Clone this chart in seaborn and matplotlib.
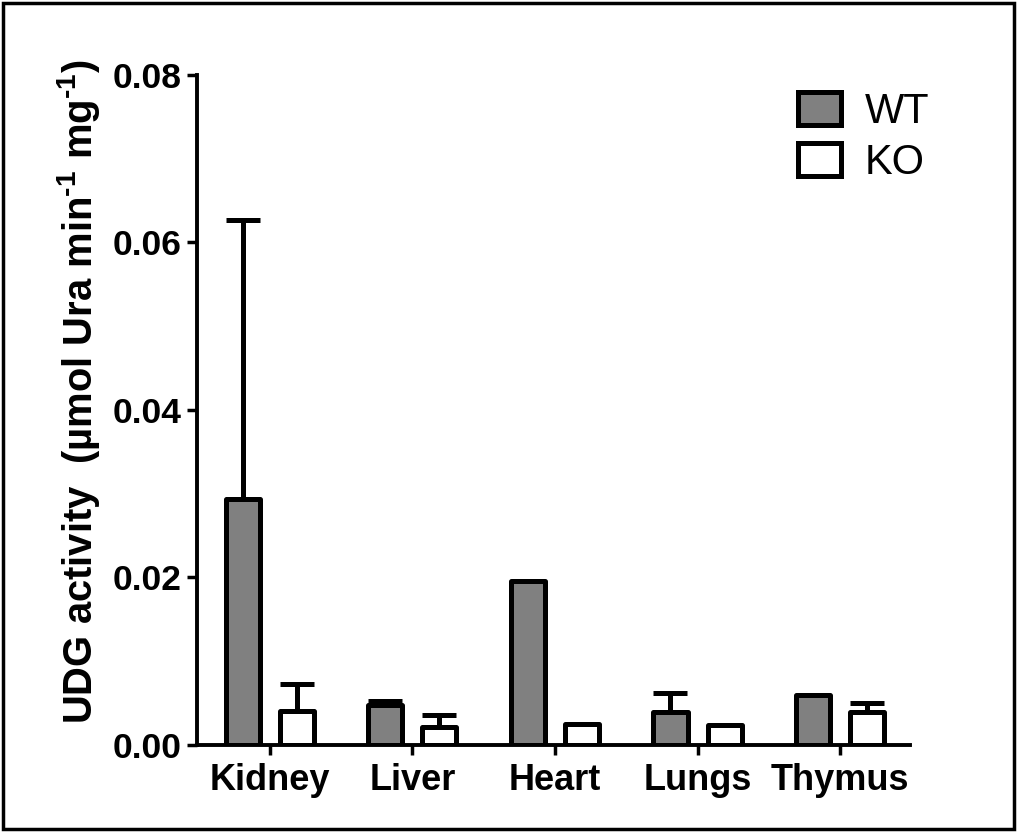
import matplotlib
matplotlib.use("Agg")
import matplotlib.pyplot as plt
import matplotlib.patches as mpatches
from matplotlib import font_manager
import seaborn as sns
import pandas as pd
import numpy as np

tissues = ["Kidney", "Liver", "Heart", "Lungs", "Thymus"]
genotypes = ["WT", "KO"]
wt_mean = [0.0294, 0.0048, 0.0196, 0.0039, 0.0060]
wt_err = [0.0333, 0.0005, 0.0000, 0.0023, 0.0000]
ko_mean = [0.0040, 0.0021, 0.0025, 0.0024, 0.0039]
ko_err = [0.0033, 0.0015, 0.0000, 0.0000, 0.0011]
yticks = [0.00, 0.02, 0.04, 0.06, 0.08]

df = pd.DataFrame({
    "tissue": tissues * 2,
    "genotype": ["WT"] * 5 + ["KO"] * 5,
    "value": wt_mean + ko_mean,
})

sns.set_style("white")
plt.rcParams["font.family"] = ["Liberation Sans", "DejaVu Sans"]
plt.rcParams["text.color"] = "black"
plt.rcParams["axes.labelcolor"] = "black"
plt.rcParams["xtick.color"] = "black"
plt.rcParams["ytick.color"] = "black"

names = {f.name for f in font_manager.fontManager.ttflist}
narrow = "Liberation Sans Narrow" if "Liberation Sans Narrow" in names else "Liberation Sans"
plt.rcParams["mathtext.fontset"] = "custom"
plt.rcParams["mathtext.rm"] = f"{narrow}:bold"
plt.rcParams["mathtext.bf"] = f"{narrow}:bold"

fig = plt.figure(figsize=(10.17, 8.32), dpi=100)
ax = fig.add_axes([0.1937, 0.1046, 0.7011, 0.8053])

lw = 3.6
sns.barplot(data=df, x="tissue", y="value", hue="genotype", order=tissues,
            hue_order=genotypes, palette={"WT": "#808080", "KO": "#ffffff"},
            errorbar=None, width=0.76, gap=0.37, edgecolor="black",
            linewidth=lw, ax=ax, legend=False, saturation=1)

for bar in ax.patches:
    bar.set_joinstyle("round")
    bar.set_zorder(3)

for cont, means, errs in zip(ax.containers, [wt_mean, ko_mean], [wt_err, ko_err]):
    xs = [b.get_x() + b.get_width() / 2 for b in cont]
    m = np.array(means)
    e = np.array(errs)
    mask = e > 0
    ax.errorbar(np.array(xs)[mask], m[mask], yerr=[np.zeros(mask.sum()), e[mask]],
                fmt="none", ecolor="black", elinewidth=lw, capsize=12, capthick=lw,
                zorder=2)

ax.set_ylim(0, 0.08)
ax.set_xlim(-0.51, 4.49)
ax.set_yticks(yticks)
ax.set_yticklabels([f"{t:.2f}" for t in yticks])
ax.tick_params(axis="both", which="both", direction="out", length=7, width=2.5,
               color="black", pad=4, left=True, bottom=True)
ax.tick_params(axis="y", labelsize=25.5)
ax.tick_params(axis="x", labelsize=26, pad=6)
for lab in ax.get_xticklabels() + ax.get_yticklabels():
    lab.set_fontweight("bold")
ax.set_xlabel("")
ax.set_ylabel(r"UDG activity  (µmol Ura min$^{\text{-1}}$ mg$^{\text{-1}}$)",
              fontsize=28.8, fontweight="bold", family=narrow, labelpad=10)
ax.yaxis.set_label_coords(-0.133, 0.528)
for s in ["top", "right"]:
    ax.spines[s].set_visible(False)
for s in ["left", "bottom"]:
    ax.spines[s].set_linewidth(2.8)
    ax.spines[s].set_color("black")

handles = [mpatches.Patch(facecolor="#808080", edgecolor="black", linewidth=lw, joinstyle="round", label="WT"),
           mpatches.Patch(facecolor="#ffffff", edgecolor="black", linewidth=lw, joinstyle="round", label="KO")]
fig.legend(handles=handles, loc="upper left", bbox_to_anchor=(0.768, 0.91),
           frameon=False, fontsize=30, handlelength=1.05, handleheight=0.85,
           handletextpad=0.55, labelspacing=0.28, borderaxespad=0)

fig.patches.append(mpatches.Rectangle((0.003, 0.004), 0.994, 0.992, transform=fig.transFigure,
                                      fill=False, edgecolor="black", linewidth=2.5))

fig.savefig("out.png", dpi=100, facecolor="white")
